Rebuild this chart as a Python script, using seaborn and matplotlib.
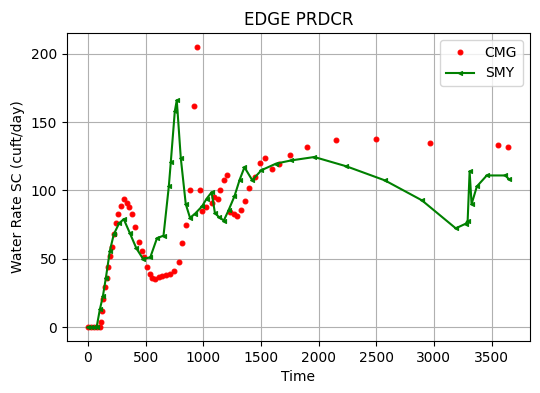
import matplotlib
matplotlib.use('Agg')
import matplotlib.pyplot as plt
import seaborn as sns

# CMG observed water rate (scattered dots)
cmg_time = [0, 23, 52, 80, 103, 115, 124, 132, 149, 161, 172, 190, 207, 224, 241,
            259, 282, 310, 339, 353, 379, 408, 440, 466, 483, 512, 534, 558, 583,
            612, 641, 678, 713, 750, 785, 819, 854, 888, 923, 946, 974, 991, 1026,
            1072, 1095, 1124, 1147, 1181, 1207, 1230, 1270, 1293, 1328, 1362, 1397,
            1448, 1489, 1535, 1595, 1653, 1750, 1897, 2150, 2500, 2966, 3552, 3647]
cmg_rate = [0, 0, 0, 0, 0, 3.9, 12, 20.5, 29, 36, 44, 52, 59, 68, 76,
            82.5, 89, 94, 91, 88, 82.5, 73, 62.5, 56, 51, 44, 38.6, 36, 35,
            36.6, 37.6, 38, 38.6, 41, 48, 61.5, 75, 100, 162, 205, 100, 85, 88,
            91, 95, 94, 100, 108, 111, 84.5, 82.5, 81.6, 85.5, 92, 101.6,
            110, 120, 123.6, 115.7, 119.7, 126, 132, 136.8, 138, 134.5, 133, 131.6]

# SMY simulated water rate (line with markers)
smy_time = [0, 25, 52, 75, 103, 129, 155, 190, 224, 270, 310, 362, 420, 477, 540,
            598, 655, 701, 718, 753, 770, 805, 848, 885, 928, 989, 1029, 1072, 1101,
            1135, 1178, 1219, 1270, 1316, 1357, 1425, 1503, 1632, 1762, 1963, 2241,
            2575, 2896, 3190, 3276, 3293, 3310, 3327, 3373, 3459, 3620, 3649]
smy_rate = [0, 0, 0, 0, 13, 22.5, 36, 56, 68, 76, 79, 69, 57.6, 50, 51,
            65, 67, 103, 120.6, 158, 166, 123.6, 90, 80, 83, 88.4, 94, 98.7, 83.5,
            80.6, 78, 85.5, 95.7, 108, 117, 107.5, 114.8, 119.7, 122, 124.5, 117.7,
            107.4, 92.8, 72.3, 75.7, 78, 114, 90, 103, 111, 111, 108.4]

fig, ax = plt.subplots(figsize=(5.4, 3.93), dpi=100)
sns.lineplot(x=cmg_time, y=cmg_rate, ax=ax, color='red', marker='.', markersize=7,
             linestyle='', markeredgecolor='red', estimator=None, sort=False, label='CMG')
sns.lineplot(x=smy_time, y=smy_rate, ax=ax, color='green', marker='<', markersize=3,
             markeredgecolor='green', estimator=None, sort=False, label='SMY')

ax.set_title('EDGE PRDCR')
ax.set_xlabel('Time')
ax.set_ylabel('Water Rate SC (cuft/day)')
ax.grid(True)
ax.legend(loc='upper right')
plt.subplots_adjust(left=0.124, right=0.981, top=0.916, bottom=0.132)
plt.savefig('out.png')
plt.close()
